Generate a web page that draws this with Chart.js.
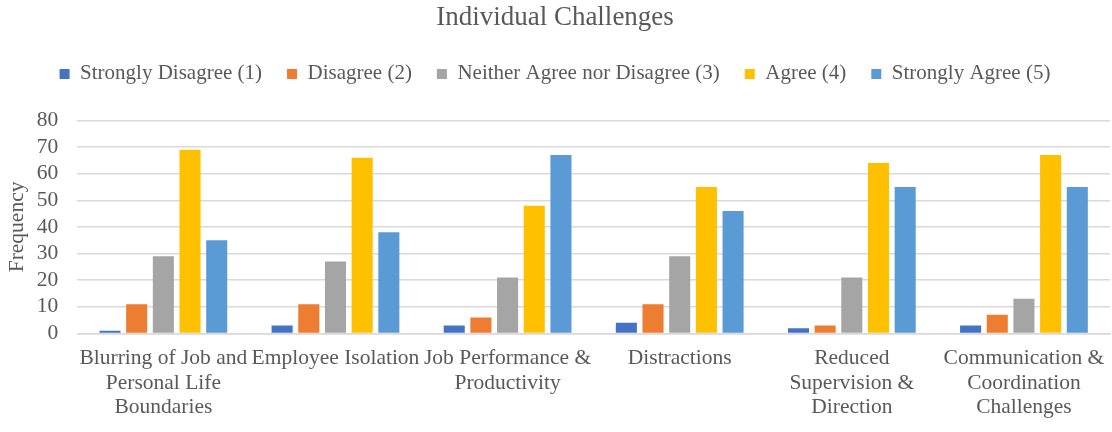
<!DOCTYPE html>
<html>
<head>
<meta charset="utf-8">
<script src="https://cdn.jsdelivr.net/npm/chart.js@4.4.1/dist/chart.umd.min.js"></script>
<style>
  html, body { margin: 0; padding: 0; background: #ffffff; }
  #wrap { width: 1112px; height: 432px; position: relative; }
</style>
</head>
<body>
<div id="wrap"><canvas id="c"></canvas></div>
<script>
const categories = [
  ["Blurring of Job and", "Personal Life", "Boundaries"],
  "Employee Isolation",
  ["Job Performance &", "Productivity"],
  "Distractions",
  ["Reduced", "Supervision &", "Direction"],
  ["Communication &", "Coordination", "Challenges"]
];
const seriesNames = [
  "Strongly Disagree (1)",
  "Disagree (2)",
  "Neither Agree nor Disagree (3)",
  "Agree (4)",
  "Strongly Agree (5)"
];
const stronglyDisagree = [1, 3, 3, 4, 2, 3];
const disagree = [11, 11, 6, 11, 3, 7];
const neither = [29, 27, 21, 29, 21, 13];
const agree = [69, 66, 48, 55, 64, 67];
const stronglyAgree = [35, 38, 67, 46, 55, 55];
const yTicks = [0, 10, 20, 30, 40, 50, 60, 70, 80];

const colors = ["#4472C4", "#ED7D31", "#A5A5A5", "#FFC000", "#5B9BD5"];
const values = [stronglyDisagree, disagree, neither, agree, stronglyAgree];
const FONT = "'Liberation Serif', 'Times New Roman', serif";
const TXT = "#595959";

// extra space below the legend row
const legendGap = {
  id: 'legendGap',
  beforeLayout(chart) {
    const lg = chart.legend;
    if (lg && !lg._gapPatched) {
      const fit = lg.fit;
      lg.fit = function () { fit.call(this); this.height += 26; };
      lg._gapPatched = true;
    }
  }
};

new Chart(document.getElementById('c'), {
  type: 'bar',
  data: {
    labels: categories,
    datasets: values.map((v, i) => ({
      label: seriesNames[i],
      data: v,
      backgroundColor: colors[i],
      borderWidth: 0,
      categoryPercentage: 0.775,
      barPercentage: 0.79
    }))
  },
  plugins: [legendGap],
  options: {
    responsive: true,
    maintainAspectRatio: false,
    animation: false,
    layout: { padding: { left: 0, right: 2, top: 0, bottom: 12 } },
    plugins: {
      title: {
        display: true,
        text: "Individual Challenges",
        color: TXT,
        font: { family: FONT, size: 27, weight: 'normal' },
        padding: { top: 2, bottom: 4 }
      },
      legend: {
        position: 'top',
        labels: {
          color: TXT,
          font: { family: FONT, size: 21 },
          boxWidth: 10,
          boxHeight: 10,
          padding: 25
        }
      },
      tooltip: { enabled: false }
    },
    scales: {
      x: {
        grid: { display: false, drawTicks: true, tickLength: 13 },
        border: { display: true, color: '#d9d9d9', width: 1.5 },
        ticks: {
          color: TXT,
          font: { family: FONT, size: 21.5, lineHeight: 1.14 },
          maxRotation: 0,
          minRotation: 0,
          autoSkip: false,
          padding: 0
        }
      },
      y: {
        min: 0,
        max: 80,
        afterBuildTicks: (axis) => { axis.ticks = yTicks.map(v => ({ value: v })); },
        grid: { color: '#d9d9d9', lineWidth: 1.5, drawTicks: true, tickLength: 19, tickColor: 'rgba(0,0,0,0)' },
        border: { display: false },
        ticks: {
          color: TXT,
          font: { family: FONT, size: 21.5 },
          padding: 0,
          autoSkip: false
        },
        title: {
          display: true,
          text: "Frequency",
          color: TXT,
          font: { family: FONT, size: 21.5 },
          padding: { top: 4, bottom: 7 }
        }
      }
    }
  }
});
</script>
</body>
</html>
